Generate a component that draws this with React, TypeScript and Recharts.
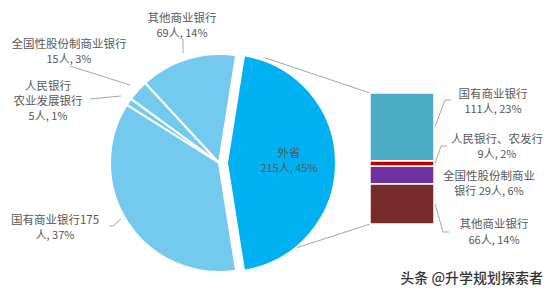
import React from 'react'
import { PieChart, Pie, Cell, BarChart, Bar, XAxis, YAxis, LabelList } from 'recharts'

// left pie: where the students went
const pieNames = ['外省', '其他商业银行', '全国性股份制商业银行', '人民银行农业发展银行', '国有商业银行']
const pieValues = [215, 69, 15, 5, 175]
const piePercents = [45, 14, 3, 1, 37]
const pieColors = ['#00B0F0', '#74C9EE', '#74C9EE', '#74C9EE', '#74C9EE']

// right bar: breakdown of 外省
const barNames = ['国有商业银行', '人民银行、农发行', '全国性股份制商业银行', '其他商业银行']
const barValues = [111, 9, 29, 66]
const barPercents = [23, 2, 6, 14]
const barColors = ['#4BACC6', '#C00000', '#7030A0', '#772C2A']

const W = 554
const H = 290
const FONT = '"Noto Sans CJK SC", "Noto Sans", sans-serif'
const TEXT = '#595959'
const LINE = '#A6A6A6'

const PIE_CX = 214
const PIE_CY = 158
const PIE_R = 109
const EXPLODE = 8
const SPLIT = 81

const BAR_MARGIN = { top: 93, right: 120, bottom: 66, left: 370 }

const mainData = [{ name: pieNames[0], value: pieValues[0], pct: piePercents[0] }]
const restData = pieNames.slice(1).map((n, i) => ({ name: n, value: pieValues[i + 1], pct: piePercents[i + 1] }))

const barRow: Record<string, number | string> = { cat: '外省' }
barNames.forEach((n, i) => { barRow[n] = barValues[i] })
const barData = [barRow]

type Pt = [number, number]

const pieLabels: Record<string, { x: number; ys: number[]; lines: (v: number, p: number) => string[]; leader: Pt[] }> = {
    '外省': { x: 289, ys: [152, 167], lines: (v, p) => ['外省', `${v}人, ${p}%`], leader: [] },
    '其他商业银行': { x: 182, ys: [17, 32], lines: (v, p) => ['其他商业银行', `${v}人, ${p}%`], leader: [[183, 39], [183, 53]] },
    '全国性股份制商业银行': { x: 69, ys: [43, 58], lines: (v, p) => ['全国性股份制商业银行', `${v}人, ${p}%`], leader: [[70, 66], [130, 85]] },
    '人民银行农业发展银行': { x: 48, ys: [85, 100, 115], lines: (v, p) => ['人民银行', '农业发展银行', `${v}人, ${p}%`], leader: [[90, 99], [121, 96]] },
    '国有商业银行': { x: 55, ys: [219, 234], lines: (v, p) => [`国有商业银行${v}`, `人, ${p}%`], leader: [[109, 226], [113, 226], [121, 219]] },
}

const barLabels: { x: number; ys: number[]; lines: string[]; leader: Pt[] }[] = [
    { x: 493, ys: [93, 108], lines: ['国有商业银行', `${barValues[0]}人, ${barPercents[0]}%`], leader: [[445, 100], [451, 100]] },
    { x: 497, ys: [138, 153], lines: ['人民银行、农发行', `${barValues[1]}人, ${barPercents[1]}%`], leader: [[441, 146], [447, 146]] },
    { x: 489, ys: [175, 190], lines: ['全国性股份制商业', `银行 ${barValues[2]}人, ${barPercents[2]}%`], leader: [] },
    { x: 494, ys: [223, 239], lines: ['其他商业银行', `${barValues[3]}人, ${barPercents[3]}%`], leader: [[443, 232], [449, 232]] },
]

const poly = (pts: Pt[]) => pts.map(p => p.join(',')).join(' ')

function TextBlock({ x, ys, lines }: { x: number; ys: number[]; lines: string[] }) {
    return (
        <g>
            {lines.map((t, i) => (
                <text key={i} x={x} y={ys[i]} textAnchor="middle" dominantBaseline="central"
                    fontFamily={FONT} fontSize={i === lines.length - 1 ? 11 : 11.5} fill={TEXT}>{t}</text>
            ))}
        </g>
    )
}

const renderPieLabel = (props: any) => {
    const name = props.payload?.name ?? props.name
    const cfg = pieLabels[name]
    if (!cfg) return null
    const pct = props.payload?.pct ?? 0
    return (
        <g>
            {cfg.leader.length > 0 && <polyline points={poly(cfg.leader)} fill="none" stroke={LINE} strokeWidth={1} />}
            <TextBlock x={cfg.x} ys={cfg.ys} lines={cfg.lines(props.value, pct)} />
        </g>
    )
}

const makeBarLabel = (idx: number) => (props: any) => {
    const { x, y, width, height } = props
    const cfg = barLabels[idx]
    const start: Pt = [x + width + 1, y + height / 2]
    return (
        <g>
            {cfg.leader.length > 0 && <polyline points={poly([start, ...cfg.leader])} fill="none" stroke={LINE} strokeWidth={1} />}
            <TextBlock x={cfg.x} ys={cfg.ys} lines={cfg.lines} />
        </g>
    )
}

export default function App() {
    const rad = (a: number) => (a * Math.PI) / 180
    const ex = PIE_CX + EXPLODE
    const a = 67
    const topStart: Pt = [ex + PIE_R * Math.cos(rad(a)), PIE_CY - PIE_R * Math.sin(rad(a))]
    const botStart: Pt = [ex + PIE_R * Math.cos(rad(a)), PIE_CY + PIE_R * Math.sin(rad(a))]
    const barLeft = BAR_MARGIN.left
    const barTop = BAR_MARGIN.top
    const barBottom = H - BAR_MARGIN.bottom

    // bottom of the stack is drawn first
    const stackOrder = [3, 2, 1, 0]

    return (
        <div style={{ position: 'fixed', left: 0, top: 0, width: W, height: H, background: '#fff' }}>
            <svg width={W} height={H} style={{ position: 'absolute', left: 0, top: 0 }}>
                <line x1={topStart[0]} y1={topStart[1]} x2={barLeft} y2={barTop} stroke={LINE} strokeWidth={1} />
                <line x1={botStart[0]} y1={botStart[1]} x2={barLeft} y2={barBottom} stroke={LINE} strokeWidth={1} />
            </svg>
            <div style={{ position: 'absolute', left: 0, top: 0 }}>
                <PieChart width={W} height={H}>
                    <Pie data={restData} dataKey="value" nameKey="name" cx={PIE_CX} cy={PIE_CY}
                        outerRadius={PIE_R} startAngle={SPLIT} endAngle={360 - SPLIT}
                        stroke="#fff" strokeWidth={2} label={renderPieLabel} labelLine={false}
                        isAnimationActive={false}>
                        {restData.map((d, i) => <Cell key={d.name} fill={pieColors[i + 1]} />)}
                    </Pie>
                    <Pie data={mainData} dataKey="value" nameKey="name" cx={PIE_CX + EXPLODE} cy={PIE_CY}
                        outerRadius={PIE_R} startAngle={-SPLIT} endAngle={SPLIT}
                        stroke="#fff" strokeWidth={2} label={renderPieLabel} labelLine={false}
                        isAnimationActive={false}>
                        <Cell fill={pieColors[0]} />
                    </Pie>
                </PieChart>
            </div>
            <div style={{ position: 'absolute', left: 0, top: 0 }}>
                <BarChart width={W} height={H} data={barData} margin={BAR_MARGIN} barCategoryGap={0}>
                    <XAxis dataKey="cat" hide />
                    <YAxis hide domain={[0, barValues.reduce((s, v) => s + v, 0)]} />
                    {stackOrder.map(i => (
                        <Bar key={barNames[i]} dataKey={barNames[i]} stackId="s" fill={barColors[i]}
                            stroke="#fff" strokeWidth={1.5} isAnimationActive={false}>
                            <LabelList content={makeBarLabel(i)} />
                        </Bar>
                    ))}
                </BarChart>
            </div>
            <div style={{
                position: 'absolute', right: 11, top: 267, fontFamily: FONT, fontSize: 14,
                fontWeight: 500, color: '#333', whiteSpace: 'nowrap', lineHeight: '20px',
            }}>头条 @升学规划探索者</div>
        </div>
    )
}
